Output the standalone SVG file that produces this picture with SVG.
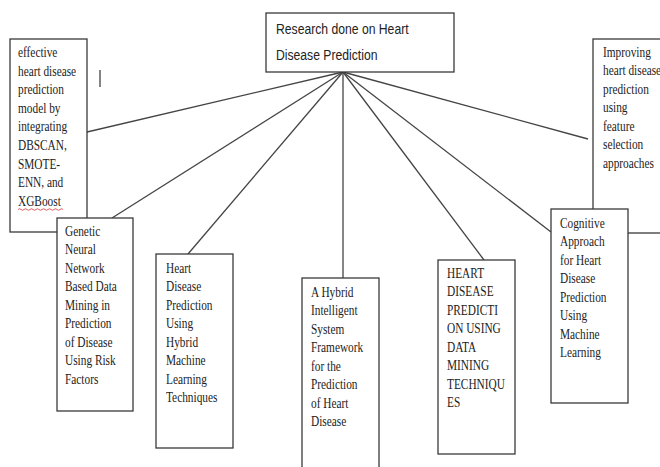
<svg xmlns="http://www.w3.org/2000/svg" width="660" height="467" viewBox="0 0 660 467">
<style>
.box{fill:#fff;stroke:#3a3a3a;stroke-width:1.3}
.con line{stroke:#444;stroke-width:1.3}
.t{font-family:"Liberation Serif","Times New Roman",serif;font-size:14px;fill:#222}
.ts{font-family:"Liberation Sans",Arial,sans-serif;font-size:14px;fill:#222}
</style>
<rect width="660" height="467" fill="#fff"/>
<g id="connectors" class="con">
<line x1="343" y1="72" x2="87" y2="132"/>
<line x1="343" y1="72" x2="112" y2="218"/>
<line x1="343" y1="72" x2="188" y2="254"/>
<line x1="343" y1="72" x2="343" y2="278"/>
<line x1="343" y1="72" x2="484" y2="260"/>
<line x1="343" y1="72" x2="551" y2="232"/>
<line x1="343" y1="72" x2="588" y2="139"/>
</g>
<g id="root">
<rect class="box" x="266" y="13" width="188" height="59"/>
<text class="ts" transform="translate(276 0) scale(0.87 1)"><tspan x="0" y="34">Research done on Heart</tspan><tspan x="0" y="60">Disease Prediction</tspan></text>
</g>
<g id="n-dbscan">
<rect class="box" x="10" y="39" width="77" height="193"/>
<text class="t" transform="translate(18 0) scale(0.81 1)"><tspan x="0" y="57">effective</tspan><tspan x="0" y="75.6">heart disease</tspan><tspan x="0" y="94.2">prediction</tspan><tspan x="0" y="112.8">model by</tspan><tspan x="0" y="131.4">integrating</tspan><tspan x="0" y="150">DBSCAN,</tspan><tspan x="0" y="168.6">SMOTE-</tspan><tspan x="0" y="187.2">ENN, and</tspan><tspan x="0" y="205.8">XGBoost</tspan></text>
<path d="M18 209.5 q1.5 -1.5 3 0 t3 0 t3 0 t3 0 t3 0 t3 0 t3 0 t3 0 t3 0 t3 0 t3 0 t3 0 t3 0 t3 0 t3 0" fill="none" stroke="#d33" stroke-width="0.8"/>
</g>
<line x1="100" y1="70" x2="100" y2="87" stroke="#333" stroke-width="1.2"/>
<g id="n-genetic">
<rect class="box" x="57" y="218" width="76" height="193"/>
<text class="t" transform="translate(65 0) scale(0.81 1)"><tspan x="0" y="236">Genetic</tspan><tspan x="0" y="254.5">Neural</tspan><tspan x="0" y="273">Network</tspan><tspan x="0" y="291.5">Based Data</tspan><tspan x="0" y="310">Mining in</tspan><tspan x="0" y="328.5">Prediction</tspan><tspan x="0" y="347">of Disease</tspan><tspan x="0" y="365.5">Using Risk</tspan><tspan x="0" y="384">Factors</tspan></text>
</g>
<g id="n-hybrid-ml">
<rect class="box" x="156" y="254" width="77" height="194"/>
<text class="t" transform="translate(166 0) scale(0.81 1)"><tspan x="0" y="273">Heart</tspan><tspan x="0" y="291.5">Disease</tspan><tspan x="0" y="310">Prediction</tspan><tspan x="0" y="328.5">Using</tspan><tspan x="0" y="347">Hybrid</tspan><tspan x="0" y="365.5">Machine</tspan><tspan x="0" y="384">Learning</tspan><tspan x="0" y="402.5">Techniques</tspan></text>
</g>
<g id="n-hybrid-intelligent">
<rect class="box" x="302" y="278" width="77" height="200"/>
<text class="t" transform="translate(311 0) scale(0.81 1)"><tspan x="0" y="297">A Hybrid</tspan><tspan x="0" y="315.5">Intelligent</tspan><tspan x="0" y="334">System</tspan><tspan x="0" y="352.5">Framework</tspan><tspan x="0" y="371">for the</tspan><tspan x="0" y="389.5">Prediction</tspan><tspan x="0" y="408">of Heart</tspan><tspan x="0" y="426.5">Disease</tspan></text>
</g>
<g id="n-data-mining">
<rect class="box" x="438" y="260" width="77" height="194"/>
<text class="t" transform="translate(447 0) scale(0.81 1)"><tspan x="0" y="278">HEART</tspan><tspan x="0" y="296.5">DISEASE</tspan><tspan x="0" y="315">PREDICTI</tspan><tspan x="0" y="333.5">ON USING</tspan><tspan x="0" y="352">DATA</tspan><tspan x="0" y="370.5">MINING</tspan><tspan x="0" y="389">TECHNIQU</tspan><tspan x="0" y="407.5">ES</tspan></text>
</g>
<g id="n-feature-selection">
<rect class="box" x="593" y="39" width="80" height="194"/>
<text class="t" transform="translate(603 0) scale(0.81 1)"><tspan x="0" y="57">Improving</tspan><tspan x="0" y="75.5">heart disease</tspan><tspan x="0" y="94">prediction</tspan><tspan x="0" y="112.5">using</tspan><tspan x="0" y="131">feature</tspan><tspan x="0" y="149.5">selection</tspan><tspan x="0" y="168">approaches</tspan></text>
</g>
<g id="n-cognitive">
<rect class="box" x="551" y="209" width="77" height="194"/>
<text class="t" transform="translate(560 0) scale(0.81 1)"><tspan x="0" y="228">Cognitive</tspan><tspan x="0" y="246.5">Approach</tspan><tspan x="0" y="265">for Heart</tspan><tspan x="0" y="283.5">Disease</tspan><tspan x="0" y="302">Prediction</tspan><tspan x="0" y="320.5">Using</tspan><tspan x="0" y="339">Machine</tspan><tspan x="0" y="357.5">Learning</tspan></text>
</g>
</svg>
